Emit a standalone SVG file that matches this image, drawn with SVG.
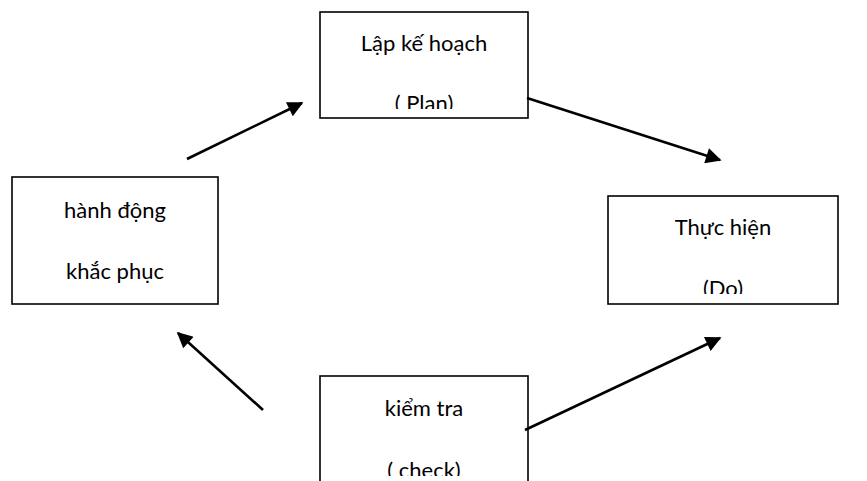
<svg xmlns="http://www.w3.org/2000/svg" width="867" height="481" viewBox="0 0 867 481">
  <style>
    .box { fill: #ffffff; stroke: #000000; stroke-width: 1.6; }
    .lbl { font-family: Lato, "Open Sans", "DejaVu Sans", sans-serif; font-size: 22px; fill: #000000; text-anchor: middle; }
    .arrow { stroke: #000000; stroke-width: 2.6; fill: none; marker-end: url(#head); }
  </style>
  <defs>
    <marker id="head" viewBox="0 0 10 10" refX="9" refY="5" markerWidth="7" markerHeight="6" markerUnits="strokeWidth" orient="auto">
      <path d="M0,0 L10,5 L0,10 Z" fill="#000000"/>
    </marker>
    <!-- text areas sit inside the frames with an inner margin at the bottom -->
    <clipPath id="clipPlan"><rect x="320" y="12" width="208" height="97"/></clipPath>
    <clipPath id="clipDo"><rect x="608" y="196" width="230" height="98"/></clipPath>
    <clipPath id="clipCheck"><rect x="320" y="376" width="208" height="100"/></clipPath>
  </defs>
  <rect width="867" height="481" fill="#ffffff"/>

  <g id="plan">
    <rect class="box" x="320" y="12" width="208" height="106"/>
    <g clip-path="url(#clipPlan)">
      <text class="lbl" x="424" y="51">Lập kế hoạch</text>
      <text class="lbl" x="424" y="111">( Plan)</text>
    </g>
  </g>

  <g id="do">
    <rect class="box" x="608" y="196" width="230" height="108"/>
    <g clip-path="url(#clipDo)">
      <text class="lbl" x="723" y="235">Thực hiện</text>
      <text class="lbl" x="723" y="296">(Do)</text>
    </g>
  </g>

  <g id="check">
    <rect class="box" x="320" y="376" width="208" height="120"/>
    <g clip-path="url(#clipCheck)">
      <text class="lbl" x="424" y="416">kiểm tra</text>
      <text class="lbl" x="424" y="478">( check)</text>
    </g>
  </g>

  <g id="act">
    <rect class="box" x="12" y="177" width="206" height="127"/>
    <text class="lbl" x="115" y="218">hành động</text>
    <text class="lbl" x="115" y="279">khắc phục</text>
  </g>

  <g id="connectors">
    <line class="arrow" x1="187" y1="159" x2="302" y2="103"/>
    <line class="arrow" x1="527" y1="98" x2="720" y2="160"/>
    <line class="arrow" x1="525" y1="430" x2="720" y2="338"/>
    <line class="arrow" x1="263" y1="410" x2="178" y2="333"/>
  </g>
</svg>
